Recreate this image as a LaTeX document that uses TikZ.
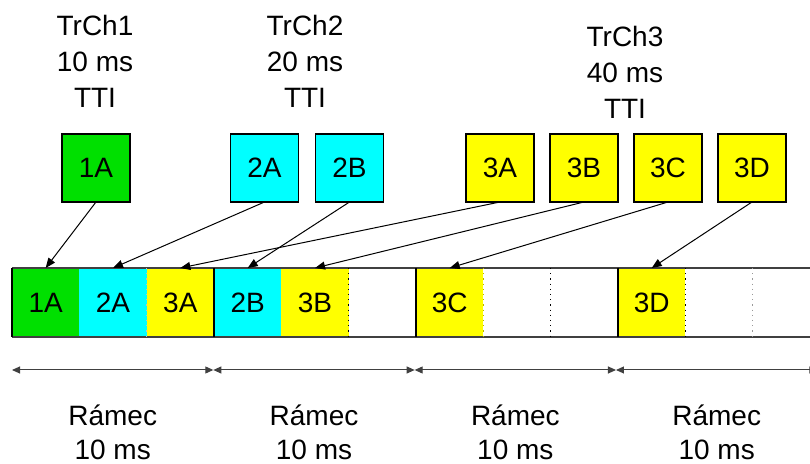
\documentclass[tikz,border=0pt]{standalone}
\usepackage{fontspec}
\setmainfont{Liberation Sans}
\usetikzlibrary{arrows.meta,positioning}
\definecolor{trgreen}{RGB}{0,224,0}
\definecolor{trcyan}{RGB}{0,255,255}
\definecolor{tryellow}{RGB}{255,255,0}

\begin{document}
\begin{tikzpicture}[x=0.5pt,y=-0.5pt,
  font=\fontsize{14}{17}\selectfont,
  tchbox/.style={draw, line width=0.6pt, minimum size=34pt, inner sep=0pt, outer sep=0pt},
  cell/.style={minimum width=33.67pt, minimum height=34.5pt, inner sep=0pt, outer sep=0pt},
  caption/.style={align=center, inner sep=0pt},
  map/.style={-{Triangle[length=5pt,width=4pt]}, line width=0.5pt},
  span/.style={{Triangle[length=4pt,width=3.5pt]}-{Triangle[length=4pt,width=3.5pt]}, line width=0.5pt, black!75}]
  \clip (0,0) rectangle (810,464);

  % Headers
  \node[caption, font=\fontsize{14}{18}\selectfont] (h1) at (95,61) {TrCh1\\10 ms\\TTI};
  \node[caption, font=\fontsize{14}{18}\selectfont] (h2) at (305,61) {TrCh2\\20 ms\\TTI};
  \node[caption, font=\fontsize{14}{18}\selectfont] (h3) at (625,72) {TrCh3\\40 ms\\TTI};

  % Transport blocks
  \node[tchbox, fill=trgreen] (u1A) at (96,168) {1A};
  \node[tchbox, fill=trcyan] (u2A) at (264.5,168) {2A};
  \node[tchbox, fill=trcyan, right=8.5pt of u2A] (u2B) {2B};
  \node[tchbox, fill=tryellow] (u3A) at (500,168) {3A};
  \node[tchbox, fill=tryellow, right=8pt of u3A] (u3B) {3B};
  \node[tchbox, fill=tryellow, right=8pt of u3B] (u3C) {3C};
  \node[tchbox, fill=tryellow, right=8pt of u3C] (u3D) {3D};

  % Radio frames
  \node[cell, fill=trgreen] (c1) at (45.67,302.5) {1A};
  \node[cell, fill=trcyan, right=0pt of c1] (c2) {2A};
  \node[cell, fill=tryellow, right=0pt of c2] (c3) {3A};
  \node[cell, fill=trcyan, right=0pt of c3] (c4) {2B};
  \node[cell, fill=tryellow, right=0pt of c4] (c5) {3B};
  \node[cell, right=0pt of c5] (c6) {};
  \node[cell, fill=tryellow, right=0pt of c6] (c7) {3C};
  \node[cell, right=0pt of c7] (c8) {};
  \node[cell, right=0pt of c8] (c9) {};
  \node[cell, fill=tryellow, right=0pt of c9] (c10) {3D};
  \node[cell, right=0pt of c10] (c11) {};
  \node[cell, right=0pt of c11] (c12) {};

  \draw[line width=1pt, black!75] (c1.north west) -- ++(800,0);
  \draw[line width=1pt, black!75] (c1.south west) -- ++(800,0);
  \draw[line width=0.6pt] (c1.north west) -- (c1.south west);
  \foreach \c in {c3,c6,c9} \draw[line width=0.6pt] (\c.north east) -- (\c.south east);
  \foreach \c in {c5,c8,c10} \draw[dotted, line width=0.6pt] (\c.north east) -- (\c.south east);
  \draw[dotted, line width=0.6pt, black!25] (c2.north east) -- (c2.south east);
  \draw[dotted, line width=0.6pt, black!40] (c11.north east) -- (c11.south east);
  \draw[dotted, line width=0.6pt, tryellow!70!black] (c7.north east) -- (c7.south east);

  % Mapping
  \foreach \u/\c in {1A/c1,2A/c2,3A/c3,2B/c4,3B/c5,3C/c7,3D/c10}
    \draw[map] (u\u.south) -- (\c.north);

  % Frame spans
  \foreach \i in {0,...,4} \coordinate (f\i) at ({12+201.33*\i},370);
  \foreach \i/\j in {0/1,1/2,2/3,3/4} {
    \draw[span] (f\i) -- (f\j);
    \node[caption] (r\i) at ({112.7+201.33*\i},432) {Rámec\\10 ms};
  }
\end{tikzpicture}
\end{document}
